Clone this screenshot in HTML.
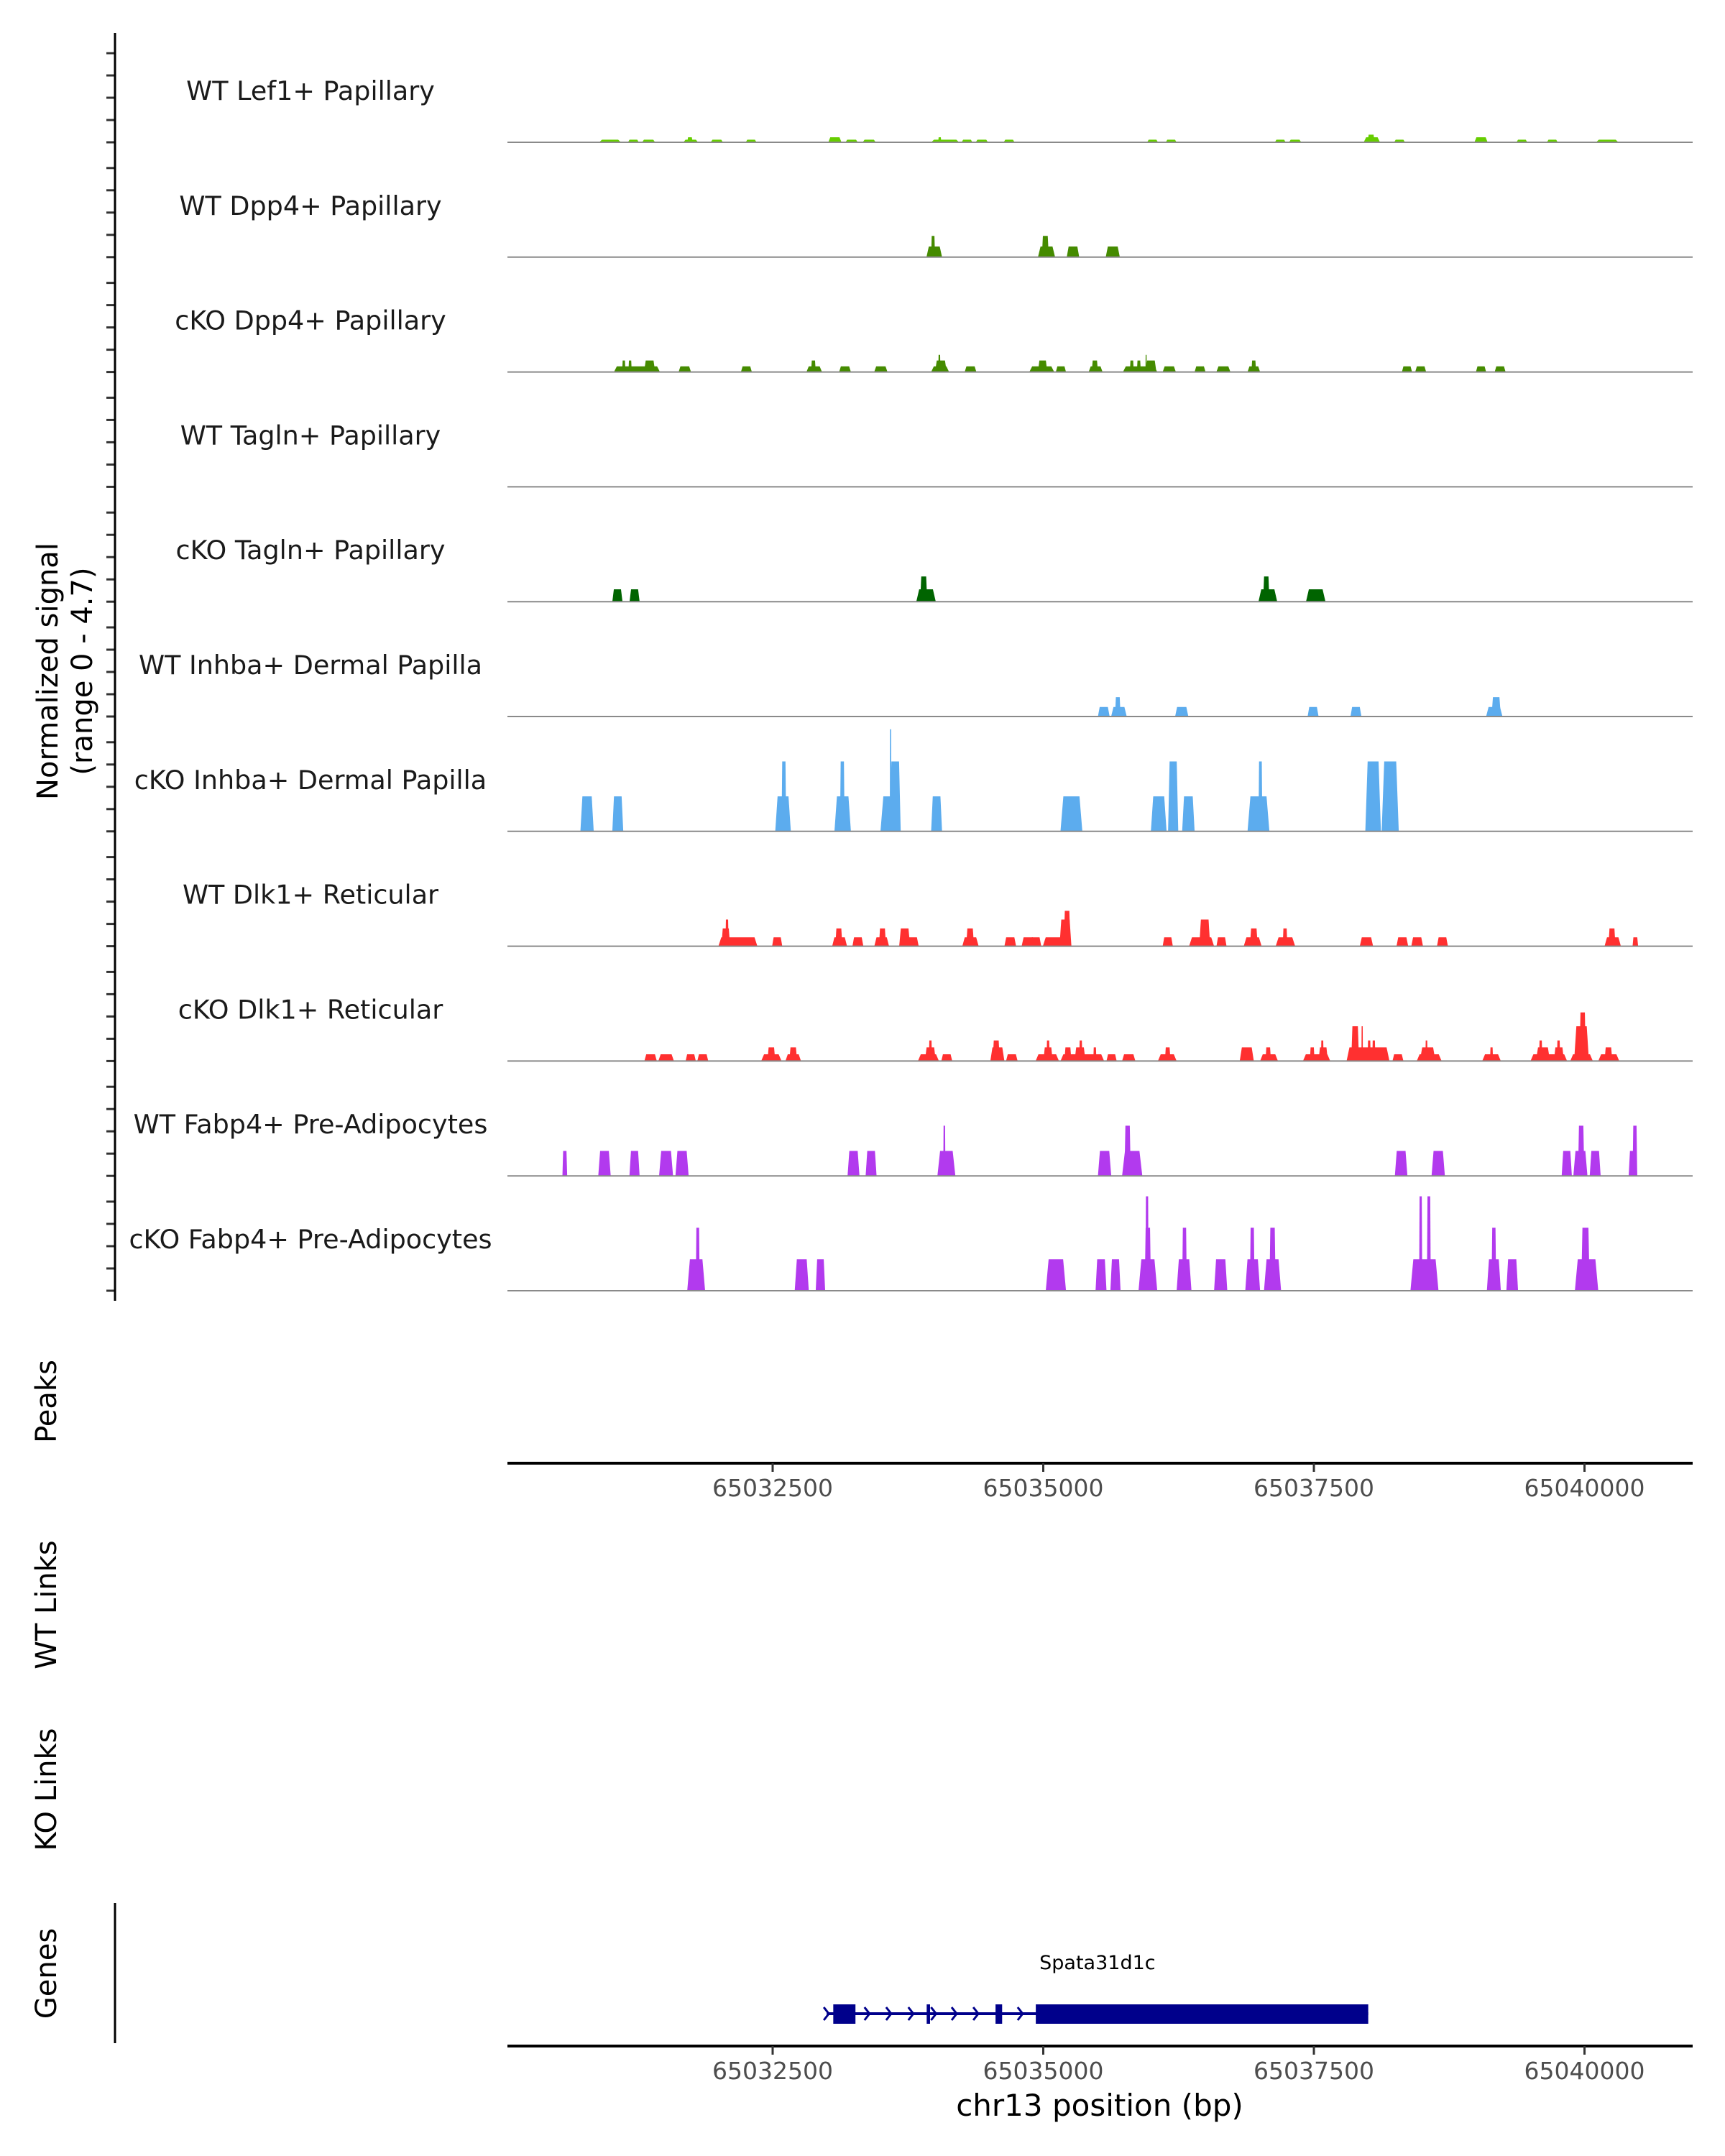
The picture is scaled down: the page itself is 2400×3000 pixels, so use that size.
<!DOCTYPE html>
<html><head><meta charset="utf-8"><style>
html,body{margin:0;padding:0;background:#fff;}
svg{display:block;font-family:"DejaVu Sans","Liberation Sans",sans-serif;}
</style></head><body>
<svg id="chart" width="2400" height="3000" viewBox="0 0 2400 3000" xmlns="http://www.w3.org/2000/svg">
<g id="tracks"></g>
<g id="axes"></g>
<text transform="translate(80,934) rotate(-90)" text-anchor="middle" font-size="40" fill="#000"><tspan x="0" dy="0">Normalized signal</tspan><tspan x="0" dy="48">(range 0 - 4.7)</tspan></text>
<text transform="translate(78,1950) rotate(-90)" text-anchor="middle" font-size="40">Peaks</text>
<text transform="translate(78,2233) rotate(-90)" text-anchor="middle" font-size="40">WT Links</text>
<text transform="translate(78,2490) rotate(-90)" text-anchor="middle" font-size="40">KO Links</text>
<text transform="translate(78,2746) rotate(-90)" text-anchor="middle" font-size="40">Genes</text>
<line x1="160" y1="2648" x2="160" y2="2843" stroke="#000" stroke-width="3"/>
<g id="gene"></g>
<text x="1530" y="2944" text-anchor="middle" font-size="42">chr13 position (bp)</text>
</svg>
<script>
const NS='http://www.w3.org/2000/svg';
const xDomain=[65030050,65040999];
const xRange=[706,2355];
const xTicks=[65032500,65035000,65037500,65040000];
const yMax=4.7;
const trackNames=["WT Lef1+ Papillary","WT Dpp4+ Papillary","cKO Dpp4+ Papillary","WT Tagln+ Papillary","cKO Tagln+ Papillary","WT Inhba+ Dermal Papilla","cKO Inhba+ Dermal Papilla","WT Dlk1+ Reticular","cKO Dlk1+ Reticular","WT Fabp4+ Pre-Adipocytes","cKO Fabp4+ Pre-Adipocytes"];
const trackColors=["#66CD00","#458B00","#458B00","#006400","#006400","#5CACEE","#5CACEE","#FF3030","#FF3030","#B23AEE","#B23AEE"];
// peaks: [start bp, end bp, value]
const lef1WT=[[65030897,65031099,.12],[65031163,65031264,.12],[65031293,65031415,.12],[65031675,65031811,.12],[65031711,65031761,.23],[65031927,65032042,.12],[65032251,65032351,.12],[65033014,65033136,.23],[65033172,65033287,.12],[65033331,65033453,.12],[65033964,65034223,.12],[65034029,65034058,.23],[65034245,65034346,.12],[65034375,65034490,.12],[65034634,65034735,.12],[65035959,65036060,.12],[65036131,65036232,.12],[65037139,65037240,.12],[65037269,65037384,.12],[65037960,65038111,.23],[65037996,65038061,.35],[65038241,65038342,.12],[65038983,65039105,.23],[65039371,65039472,.12],[65039652,65039753,.12],[65040106,65040314,.12]];
const dpp4WT=[[65033921,65034065,.49],[65033964,65034000,.98],[65034951,65035109,.49],[65034987,65035051,.98],[65035217,65035332,.49],[65035577,65035707,.49]];
const dpp4KO=[[65031034,65031459,.26],[65031110,65031140,.53],[65031168,65031198,.53],[65031312,65031415,.53],[65031631,65031746,.26],[65032207,65032308,.26],[65032812,65032956,.26],[65032855,65032898,.53],[65033114,65033223,.26],[65033438,65033561,.26],[65033964,65034130,.26],[65034000,65034108,.53],[65034030,65034050,.79],[65034274,65034382,.26],[65034871,65035101,.26],[65034951,65035037,.53],[65035116,65035210,.26],[65035419,65035548,.26],[65035448,65035505,.53],[65035736,65036053,.26],[65035800,65035836,.53],[65035865,65035901,.53],[65035944,65036045,.53],[65035944,65035956,.79],[65036103,65036225,.26],[65036398,65036499,.26],[65036599,65036729,.26],[65036887,65037003,.26],[65036923,65036966,.53],[65038313,65038407,.26],[65038436,65038537,.26],[65038997,65039091,.26],[65039170,65039271,.26]];
const taglnWT=[];
const taglnKO=[[65031019,65031113,.57],[65031178,65031271,.57],[65033827,65034007,.57],[65033863,65033928,1.16],[65036988,65037161,.57],[65037031,65037089,1.16],[65037427,65037607,.57]];
const inhbaWT=[[65035505,65035613,.44],[65035627,65035771,.44],[65035663,65035714,.89],[65036218,65036340,.44],[65037442,65037543,.44],[65037838,65037939,.44],[65039091,65039242,.44],[65039141,65039227,.89]];
const inhbaKO=[[65030724,65030847,1.61],[65031019,65031120,1.61],[65032524,65032668,1.61],[65032582,65032625,3.22],[65033071,65033223,1.61],[65033122,65033165,3.22],[65033496,65033683,1.61],[65033582,65033683,3.22],[65033582,65033597,4.7],[65033964,65034065,1.61],[65035159,65035361,1.61],[65035994,65036139,1.61],[65036153,65036247,3.22],[65036283,65036398,1.61],[65036887,65037089,1.61],[65036988,65037024,3.22],[65037975,65038119,3.22],[65038126,65038284,3.22]];
const dlk1WT=[[65031999,65032359,.41],[65032027,65032107,.82],[65032064,65032093,1.23],[65032495,65032589,.41],[65033050,65033187,.41],[65033079,65033144,.82],[65033237,65033338,.41],[65033439,65033575,.41],[65033482,65033547,.82],[65033669,65033770,.82],[65033741,65033849,.41],[65034252,65034403,.41],[65034288,65034360,.82],[65034641,65034749,.41],[65034800,65034922,.41],[65034880,65034981,.41],[65034996,65035248,.41],[65035150,65035260,1.23],[65035190,65035250,1.63],[65036103,65036197,.41],[65036347,65036578,.41],[65036441,65036542,1.23],[65036600,65036693,.41],[65036852,65037017,.41],[65036909,65036981,.82],[65037147,65037327,.41],[65037212,65037255,.82],[65037924,65038047,.41],[65038263,65038371,.41],[65038400,65038508,.41],[65038637,65038738,.41],[65040185,65040336,.41],[65040221,65040286,.82],[65040444,65040495,.41]];
const dlk1KO=[[65031315,65031430,.31],[65031444,65031588,.31],[65031696,65031790,.31],[65031804,65031905,.31],[65032394,65032582,.31],[65032452,65032524,.63],[65032618,65032762,.31],[65032654,65032726,.63],[65033842,65034036,.31],[65033907,65034007,.63],[65033943,65033972,.95],[65034058,65034159,.31],[65034511,65034641,.63],[65034533,65034598,.95],[65034656,65034763,.31],[65034929,65035145,.31],[65035001,65035087,.63],[65035030,65035059,.95],[65035159,65035562,.31],[65035195,65035260,.63],[65035289,65035390,.63],[65035332,65035361,.95],[65035462,65035491,.63],[65035584,65035678,.31],[65035728,65035851,.31],[65036059,65036232,.31],[65036124,65036175,.63],[65036815,65036945,.63],[65037003,65037168,.31],[65037053,65037103,.63],[65037399,65037651,.31],[65037463,65037506,.63],[65037543,65037629,.63],[65037565,65037590,.95],[65037802,65038198,.63],[65037845,65037917,1.6],[65037939,65037953,1.6],[65037996,65038025,.95],[65038039,65038068,.95],[65038226,65038327,.31],[65038450,65038680,.31],[65038479,65038623,.63],[65038530,65038550,.95],[65039055,65039227,.31],[65039127,65039155,.63],[65039501,65039839,.31],[65039551,65039681,.63],[65039580,65039610,.95],[65039717,65039810,.63],[65039745,65039775,.95],[65039868,65040077,.31],[65039904,65040041,1.6],[65039954,65040012,2.24],[65040127,65040321,.31],[65040185,65040257,.63]];
const fabp4WT=[[65030558,65030602,1.15],[65030889,65031004,1.15],[65031177,65031271,1.15],[65031451,65031580,1.15],[65031602,65031724,1.15],[65033192,65033302,1.15],[65033359,65033460,1.15],[65034022,65034188,1.15],[65034076,65034096,2.31],[65035505,65035628,1.15],[65035728,65035915,1.15],[65035750,65035808,2.31],[65038248,65038364,1.15],[65038587,65038710,1.15],[65039789,65039883,1.15],[65039897,65040027,1.15],[65039940,65039998,2.31],[65040048,65040149,1.15],[65040408,65040487,1.15],[65040444,65040487,2.31]];
const fabp4KO=[[65031711,65031876,1.45],[65031790,65031826,2.9],[65032704,65032834,1.45],[65032898,65032985,1.45],[65035023,65035210,1.45],[65035483,65035584,1.45],[65035620,65035714,1.45],[65035880,65036053,1.45],[65035937,65035995,2.9],[65035944,65035973,4.35],[65036232,65036369,1.45],[65036283,65036326,2.9],[65036578,65036700,1.45],[65036866,65037003,1.45],[65036909,65036952,2.9],[65037039,65037197,1.45],[65037089,65037147,2.9],[65038392,65038651,1.45],[65038472,65038501,4.35],[65038544,65038580,4.35],[65039098,65039227,1.45],[65039141,65039184,2.9],[65039278,65039386,1.45],[65039911,65040127,1.45],[65039969,65040048,2.9]];
const trackData=[lef1WT,dpp4WT,dpp4KO,taglnWT,taglnKO,inhbaWT,inhbaKO,dlk1WT,dlk1KO,fabp4WT,fabp4KO];
// gene model
const geneName="Spata31d1c";
const geneStart=65032999, geneEnd=65038002;
const geneExons=[[65033060,65033265],[65033923,65033954],[65034559,65034620],[65034931,65038002]];
const geneArrows=[65033375,65033575,65033780,65033990,65034180,65034380,65034790];

const firstBase=198, trackStep=159.8, pxPerUnit=142/yMax;
function X(bp){return xRange[0]+(bp-xDomain[0])/(xDomain[1]-xDomain[0])*(xRange[1]-xRange[0]);}
function base(i){return firstBase+trackStep*i;}
function Y(i,v){return base(i)-v*pxPerUnit;}
function mk(tag,attrs,parent){const e=document.createElementNS(NS,tag);for(const k in attrs)e.setAttribute(k,attrs[k]);parent.appendChild(e);return e;}

const tracks=document.getElementById('tracks');
const axes=document.getElementById('axes');
trackNames.forEach((name,i)=>{
  const g=mk('g',{},tracks);
  
  
  trackData[i].forEach(p=>{
    const x1=X(p[0]),x2=X(p[1]);const r=Math.min(4,(x2-x1)*0.15);
    const b=base(i),t=Y(i,p[2]);
    const poly=mk('polygon',{points:`${x1},${b} ${x1+r},${t} ${x2-r},${t} ${x2},${b}`,fill:trackColors[i]},g);
    
    
  });
  const ln=mk('line',{x1:xRange[0],x2:xRange[1],y1:base(i),y2:base(i),stroke:'#8a8a8a','stroke-width':2},g);
  
  
  const tx=mk('text',{x:432,y:base(i)-59,'text-anchor':'middle','font-size':36.5,fill:'#1a1a1a'},g);
  tx.textContent=name;
  
  
  for(let k=0;k<5;k++){
    const tk=mk('line',{x1:148,x2:160,y1:base(i)-k*31,y2:base(i)-k*31,stroke:'#333','stroke-width':3},axes);
    
    
  }
});
const ya=mk('line',{x1:160,x2:160,y1:46,y2:base(10)+14,stroke:'#000','stroke-width':3},axes);


[2036,2847].forEach((ay,j)=>{
  const l=mk('line',{x1:xRange[0],x2:xRange[1],y1:ay,y2:ay,stroke:'#000','stroke-width':4},axes);
  
  
  xTicks.forEach(t=>{
    const tk=mk('line',{x1:X(t),x2:X(t),y1:ay,y2:ay+12,stroke:'#333','stroke-width':3},axes);
    
    
    const tl=mk('text',{x:X(t),y:ay+46,'text-anchor':'middle','font-size':33,fill:'#4d4d4d'},axes);
    tl.textContent=t;
    
    
  });
});
const gg=document.getElementById('gene');
const gy=2802;
const il=mk('line',{x1:X(geneStart),x2:X(geneEnd),y1:gy,y2:gy,stroke:'#00008B','stroke-width':4},gg);


geneExons.forEach(e=>{
  const r=mk('rect',{x:X(e[0]),y:gy-13,width:Math.max(3,X(e[1])-X(e[0])),height:27,fill:'#00008B'},gg);
  
  
});
[geneStart].concat(geneArrows).forEach(a=>{
  const x=X(a);
  const p=mk('polyline',{points:`${x-4},${gy-9} ${x+3},${gy} ${x-4},${gy+9}`,fill:'none',stroke:'#00008B','stroke-width':3},gg);
  
  
});
const gl=mk('text',{x:X((geneStart+geneEnd)/2),y:2740,'text-anchor':'middle','font-size':27,fill:'#000'},gg);
gl.textContent=geneName;


</script>
</body></html>
